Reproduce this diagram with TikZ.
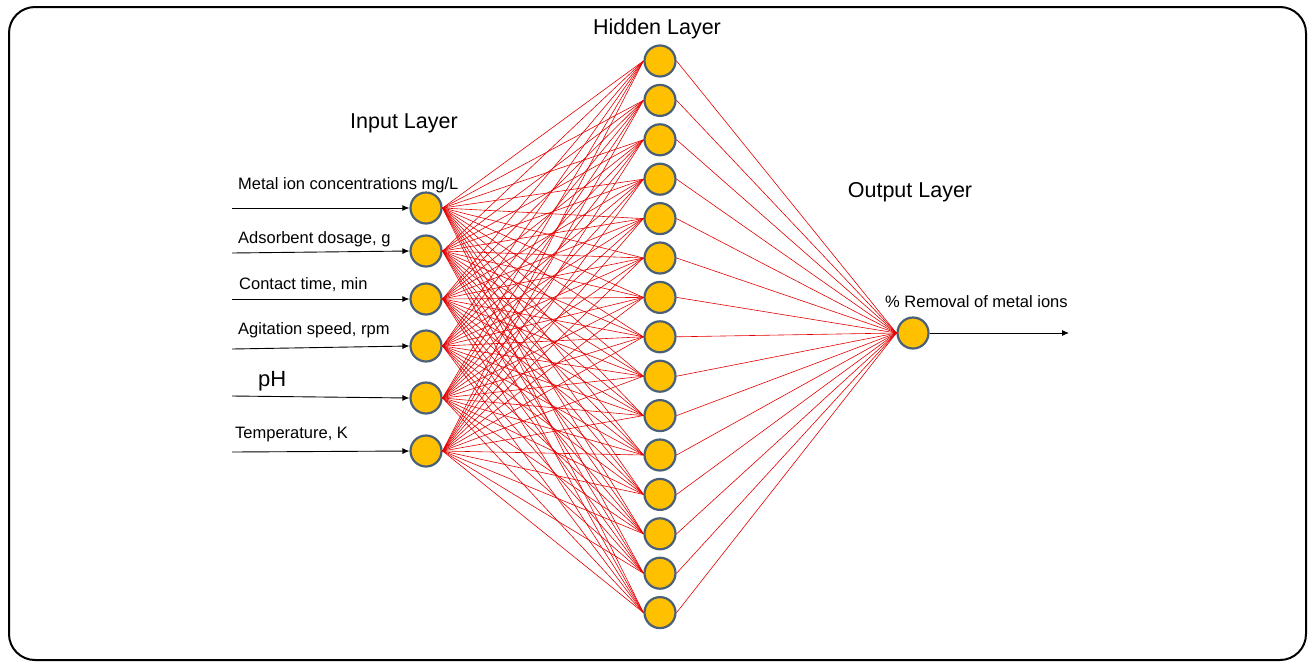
\documentclass[tikz,border=0pt]{standalone}
\usepackage{fontspec}
\setmainfont{Liberation Sans}
\usepackage{xcolor}
\usetikzlibrary{arrows.meta,positioning,calc}

\definecolor{nodefill}{HTML}{FFC000}
\definecolor{nodeedge}{HTML}{4A6078}

\begin{document}
\begin{tikzpicture}[
    x=1pt, y=-1pt,
    neuron/.style={draw=nodeedge, circle, fill=nodefill, line width=2.2pt, minimum size=31pt, inner sep=0pt},
    title/.style={font=\fontsize{21.5}{25}\selectfont, inner sep=0pt},
    label/.style={font=\fontsize{16.5}{19}\selectfont, anchor=south west, inner sep=0pt},
    link/.style={red!90!black, line width=0.6pt},
    arrow/.style={-{Latex[length=7pt,width=6pt]}, line width=0.9pt}
]
    % Frame
    \useasboundingbox (0,0) rectangle (1309,662);
    \draw [line width=2pt, rounded corners=26pt] (9,7) rectangle (1306,660);

    % Input neurons
    \foreach \i/\y in {1/208, 2/251, 3/299, 4/346, 5/398, 6/451}
        \node [neuron] (in\i) at (426,\y) {};

    % Hidden neurons
    \foreach \j in {1,...,15}
        \node [neuron] (hid\j) at (660,{61+(\j-1)*39.4}) {};

    % Output neuron
    \node [neuron] (out) at (913,333) {};

    % Layer titles
    \node [title] (t_in) at (404,123) {Input Layer};
    \node [title] (t_hid) at (657,29) {Hidden Layer};
    \node [title] (t_out) at (910,192) {Output Layer};

    % Input arrows and labels
    \foreach \i/\y in {1/208, 2/253, 3/299, 4/349, 5/396, 6/452}
        \coordinate (src\i) at (232,\y);
    \foreach \i in {1,...,6}
        \draw [arrow] (src\i) -- (in\i.west);

    \node [label] (l1) at (238,193) {Metal ion concentrations mg/L};
    \node [label] (l2) at (238,247) {Adsorbent dosage, g};
    \node [label] (l3) at (239,292) {Contact time, min};
    \node [label] (l4) at (238,338) {Agitation speed, rpm};
    \node [label, font=\fontsize{22}{26}\selectfont] (l5) at (258,391) {pH};
    \node [label] (l6) at (235,442) {Temperature, K};

    % Connections
    \foreach \i in {1,...,6}
        \foreach \j in {1,...,15}
            \draw [link] (in\i.east) -- (hid\j.west);
    \foreach \j in {1,...,15}
        \draw [link] (hid\j.east) -- (out.west);

    % Output
    \coordinate (dst) at (1069,333);
    \draw [arrow] (out.east) -- (dst);
    \node [label] (l_out) at (885,308) {\% Removal of metal ions};

\end{tikzpicture}
\end{document}
